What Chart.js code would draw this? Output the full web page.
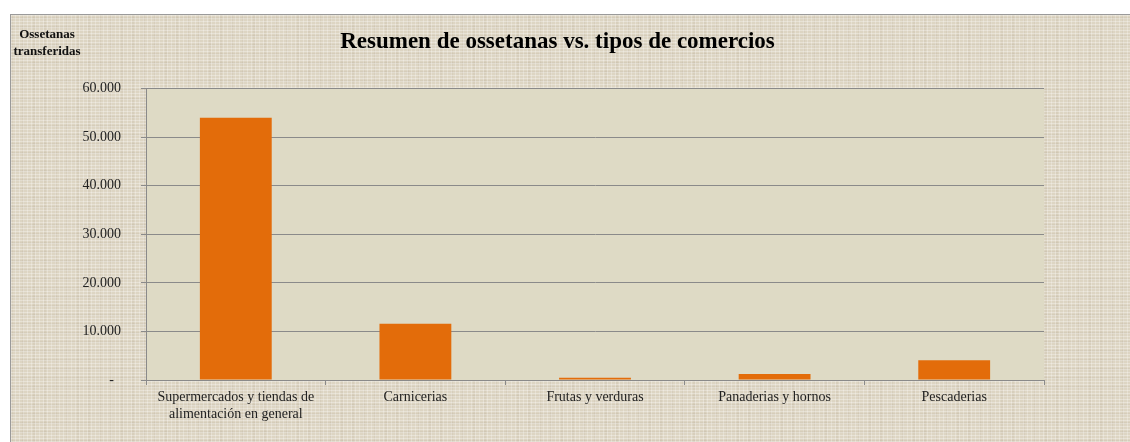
<!DOCTYPE html>
<html lang="es">
<head>
<meta charset="utf-8">
<title>Resumen de ossetanas vs. tipos de comercios</title>
<script src="https://cdn.jsdelivr.net/npm/chart.js@4"></script>
<style>
  html, body { margin: 0; padding: 0; background: #ffffff; }
  #wrap {
    position: absolute;
    left: 10px; top: 14px;
    width: 1120px; height: 428px;
    box-sizing: border-box;
    border: 1px solid #9a9a9a;
    border-right: none; border-bottom: none;
    background-color: #ddd5c3;
    background-image:
      repeating-linear-gradient(0deg, rgba(255,255,255,0.3) 0 1px, transparent 1px 3px),
      repeating-linear-gradient(90deg, rgba(255,255,255,0.25) 0 1px, transparent 1px 4px),
      repeating-linear-gradient(0deg, rgba(120,100,70,0.07) 0 2px, transparent 2px 9px),
      repeating-linear-gradient(90deg, rgba(120,100,70,0.06) 0 2px, transparent 2px 11px);
  }
  canvas { display: block; }
</style>
</head>
<body>
<div id="wrap"><canvas id="chart"></canvas></div>
<script>
// Datos del gráfico
const categorias = [
  ["Supermercados y tiendas de", "alimentación en general"],
  "Carnicerias",
  "Frutas y verduras",
  "Panaderias y hornos",
  "Pescaderias"
];
const ossetanas = [54000, 11600, 480, 1240, 4070];
const tituloGrafico = "Resumen de ossetanas vs. tipos de comercios";
const tituloEjeY = ["Ossetanas", "transferidas"];
const ejeYMax = 60000;
const ejeYPaso = 10000;

// Formato con punto de miles (estilo Excel contabilidad)
function formatoMiles(v) {
  if (v === 0) return "-  ";
  return String(v).replace(/\B(?=(\d{3})+(?!\d))/g, ".");
}

// Fondo del área de trazado + título del eje Y horizontal
const fondoPlugin = {
  id: "fondo",
  beforeDraw(chart) {
    const { ctx, chartArea: a } = chart;
    ctx.save();
    ctx.fillStyle = "#dedac5";
    ctx.fillRect(a.left, a.top, a.right - a.left, a.bottom - a.top);
    ctx.restore();
  },
  afterDraw(chart) {
    const ctx = chart.ctx;
    ctx.save();
    ctx.font = "bold 13px 'Liberation Serif', serif";
    ctx.fillStyle = "#111";
    ctx.textAlign = "center";
    ctx.textBaseline = "middle";
    ctx.fillText(tituloEjeY[0], 36, 20);
    ctx.fillText(tituloEjeY[1], 36, 37);
    ctx.restore();
  }
};

const ctx = document.getElementById("chart").getContext("2d");
new Chart(ctx, {
  type: "bar",
  data: {
    labels: categorias,
    datasets: [{
      data: ossetanas,
      backgroundColor: "#e36c0a",
      borderWidth: 0,
      barPercentage: 0.4,
      categoryPercentage: 1.0
    }]
  },
  options: {
    responsive: true,
    maintainAspectRatio: false,
    animation: false,
    layout: { padding: { left: 60, right: 86, top: 0, bottom: 0 } },
    plugins: {
      legend: { display: false },
      tooltip: { enabled: false },
      title: {
        display: true,
        text: tituloGrafico,
        color: "#000",
        font: { family: "'Liberation Serif', serif", size: 23, weight: "bold" },
        padding: { top: 13, bottom: 33 }
      }
    },
    scales: {
      x: {
        afterFit(scale) { scale.height = 62; },
        grid: {
          offset: true,
          drawOnChartArea: false,
          drawTicks: true,
          tickLength: 5,
          color: "#8a8a8a"
        },
        border: { color: "#8a8a8a", width: 1 },
        ticks: {
          color: "#222",
          padding: 4,
          maxRotation: 0,
          autoSkip: false,
          font: { family: "'Liberation Serif', serif", size: 14, lineHeight: 1.2 }
        }
      },
      y: {
        min: 0,
        max: ejeYMax,
        afterFit(scale) { scale.width = 75; },
        grid: {
          color: "#8a8a8a",
          tickLength: 5,
          drawTicks: true
        },
        border: { color: "#8a8a8a", width: 1 },
        ticks: {
          stepSize: ejeYPaso,
          color: "#222",
          padding: 20,
          font: { family: "'Liberation Serif', serif", size: 14 },
          callback: (v) => formatoMiles(v)
        }
      }
    }
  },
  plugins: [fondoPlugin]
});
</script>
</body>
</html>
